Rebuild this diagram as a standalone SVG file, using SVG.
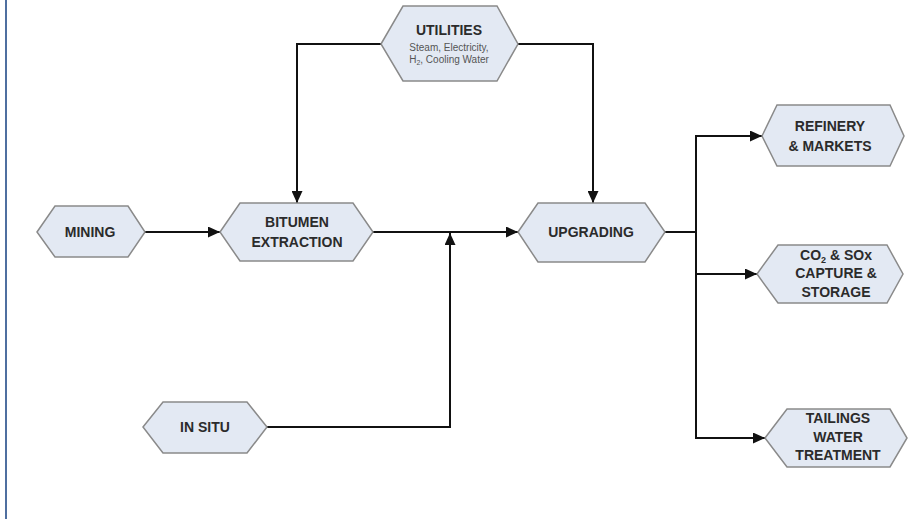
<svg xmlns="http://www.w3.org/2000/svg" width="908" height="519" viewBox="0 0 908 519">
<defs>
<marker id="arr" viewBox="0 0 12 11" refX="12" refY="5.5" markerWidth="12" markerHeight="11" markerUnits="userSpaceOnUse" orient="auto">
<path d="M0,0 L12,5.5 L0,11 Z" fill="#111"/>
</marker>
<style>
.hex{fill:#e3e9f3;stroke:#8a8a8a;stroke-width:1.5}
.t{font-family:"Liberation Sans",Arial,sans-serif;font-weight:bold;font-size:14px;fill:#2b2b2b;text-anchor:middle}
.s{font-family:"Liberation Sans",Arial,sans-serif;font-size:10px;fill:#555;text-anchor:middle}
.c{fill:none;stroke:#111;stroke-width:2}
</style>
</defs>
<rect x="0" y="0" width="908" height="519" fill="#fff"/>
<line x1="6" y1="0" x2="6" y2="519" stroke="#4f6fa0" stroke-width="2"/>
<g id="connectors">
<path class="c" d="M381,44 H297 V203" marker-end="url(#arr)"/>
<path class="c" d="M518,44 H593 V203" marker-end="url(#arr)"/>
<path class="c" d="M145,232 H220" marker-end="url(#arr)"/>
<path class="c" d="M373,232 H518" marker-end="url(#arr)"/>
<path class="c" d="M267,427 H450 V233" marker-end="url(#arr)"/>
<path class="c" d="M665,232 H696"/>
<path class="c" d="M696,136 V438"/>
<path class="c" d="M695,136 H762" marker-end="url(#arr)"/>
<path class="c" d="M696,274 H757" marker-end="url(#arr)"/>
<path class="c" d="M695,438 H765" marker-end="url(#arr)"/>
</g>
<g id="utilities">
<path class="hex" d="M381,44 L403,6 L497,6 L518,44 L497,81 L403,81 Z"/>
<text class="t" x="449" y="35" font-size="14">UTILITIES</text>
<text class="s" x="449" y="51">Steam, Electricity,</text>
<text class="s" x="449" y="63">H<tspan font-size="7" dy="2">2</tspan><tspan dy="-2">, Cooling Water</tspan></text>
</g>
<g id="mining">
<path class="hex" d="M37,232 L55,206 L128,206 L145,232 L128,257 L55,257 Z"/>
<text class="t" x="90" y="237">MINING</text>
</g>
<g id="bitumen">
<path class="hex" d="M220,232 L240,203 L353,203 L373,232 L353,261 L240,261 Z"/>
<text class="t" x="297" y="227">BITUMEN</text>
<text class="t" x="297" y="247">EXTRACTION</text>
</g>
<g id="upgrading">
<path class="hex" d="M518,232 L538,203 L645,203 L665,232 L645,262 L538,262 Z"/>
<text class="t" x="591" y="237">UPGRADING</text>
</g>
<g id="insitu">
<path class="hex" d="M143,427 L163,402 L247,402 L267,427 L247,453 L163,453 Z"/>
<text class="t" x="205" y="432">IN SITU</text>
</g>
<g id="refinery">
<path class="hex" d="M762,136 L777,105 L890,105 L904,136 L890,166 L777,166 Z"/>
<text class="t" x="830" y="131">REFINERY</text>
<text class="t" x="830" y="151">&amp; MARKETS</text>
</g>
<g id="co2">
<path class="hex" d="M757,274 L778,245 L887,245 L903,274 L887,303 L778,303 Z"/>
<text class="t" x="836" y="260">CO<tspan font-size="9" dy="3">2</tspan><tspan dy="-3"> &amp; SOx</tspan></text>
<text class="t" x="836" y="278">CAPTURE &amp;</text>
<text class="t" x="836" y="297">STORAGE</text>
</g>
<g id="tailings">
<path class="hex" d="M765,438 L787,409 L890,409 L907,438 L890,467 L787,467 Z"/>
<text class="t" x="838" y="423">TAILINGS</text>
<text class="t" x="838" y="442">WATER</text>
<text class="t" x="838" y="460">TREATMENT</text>
</g>
</svg>
